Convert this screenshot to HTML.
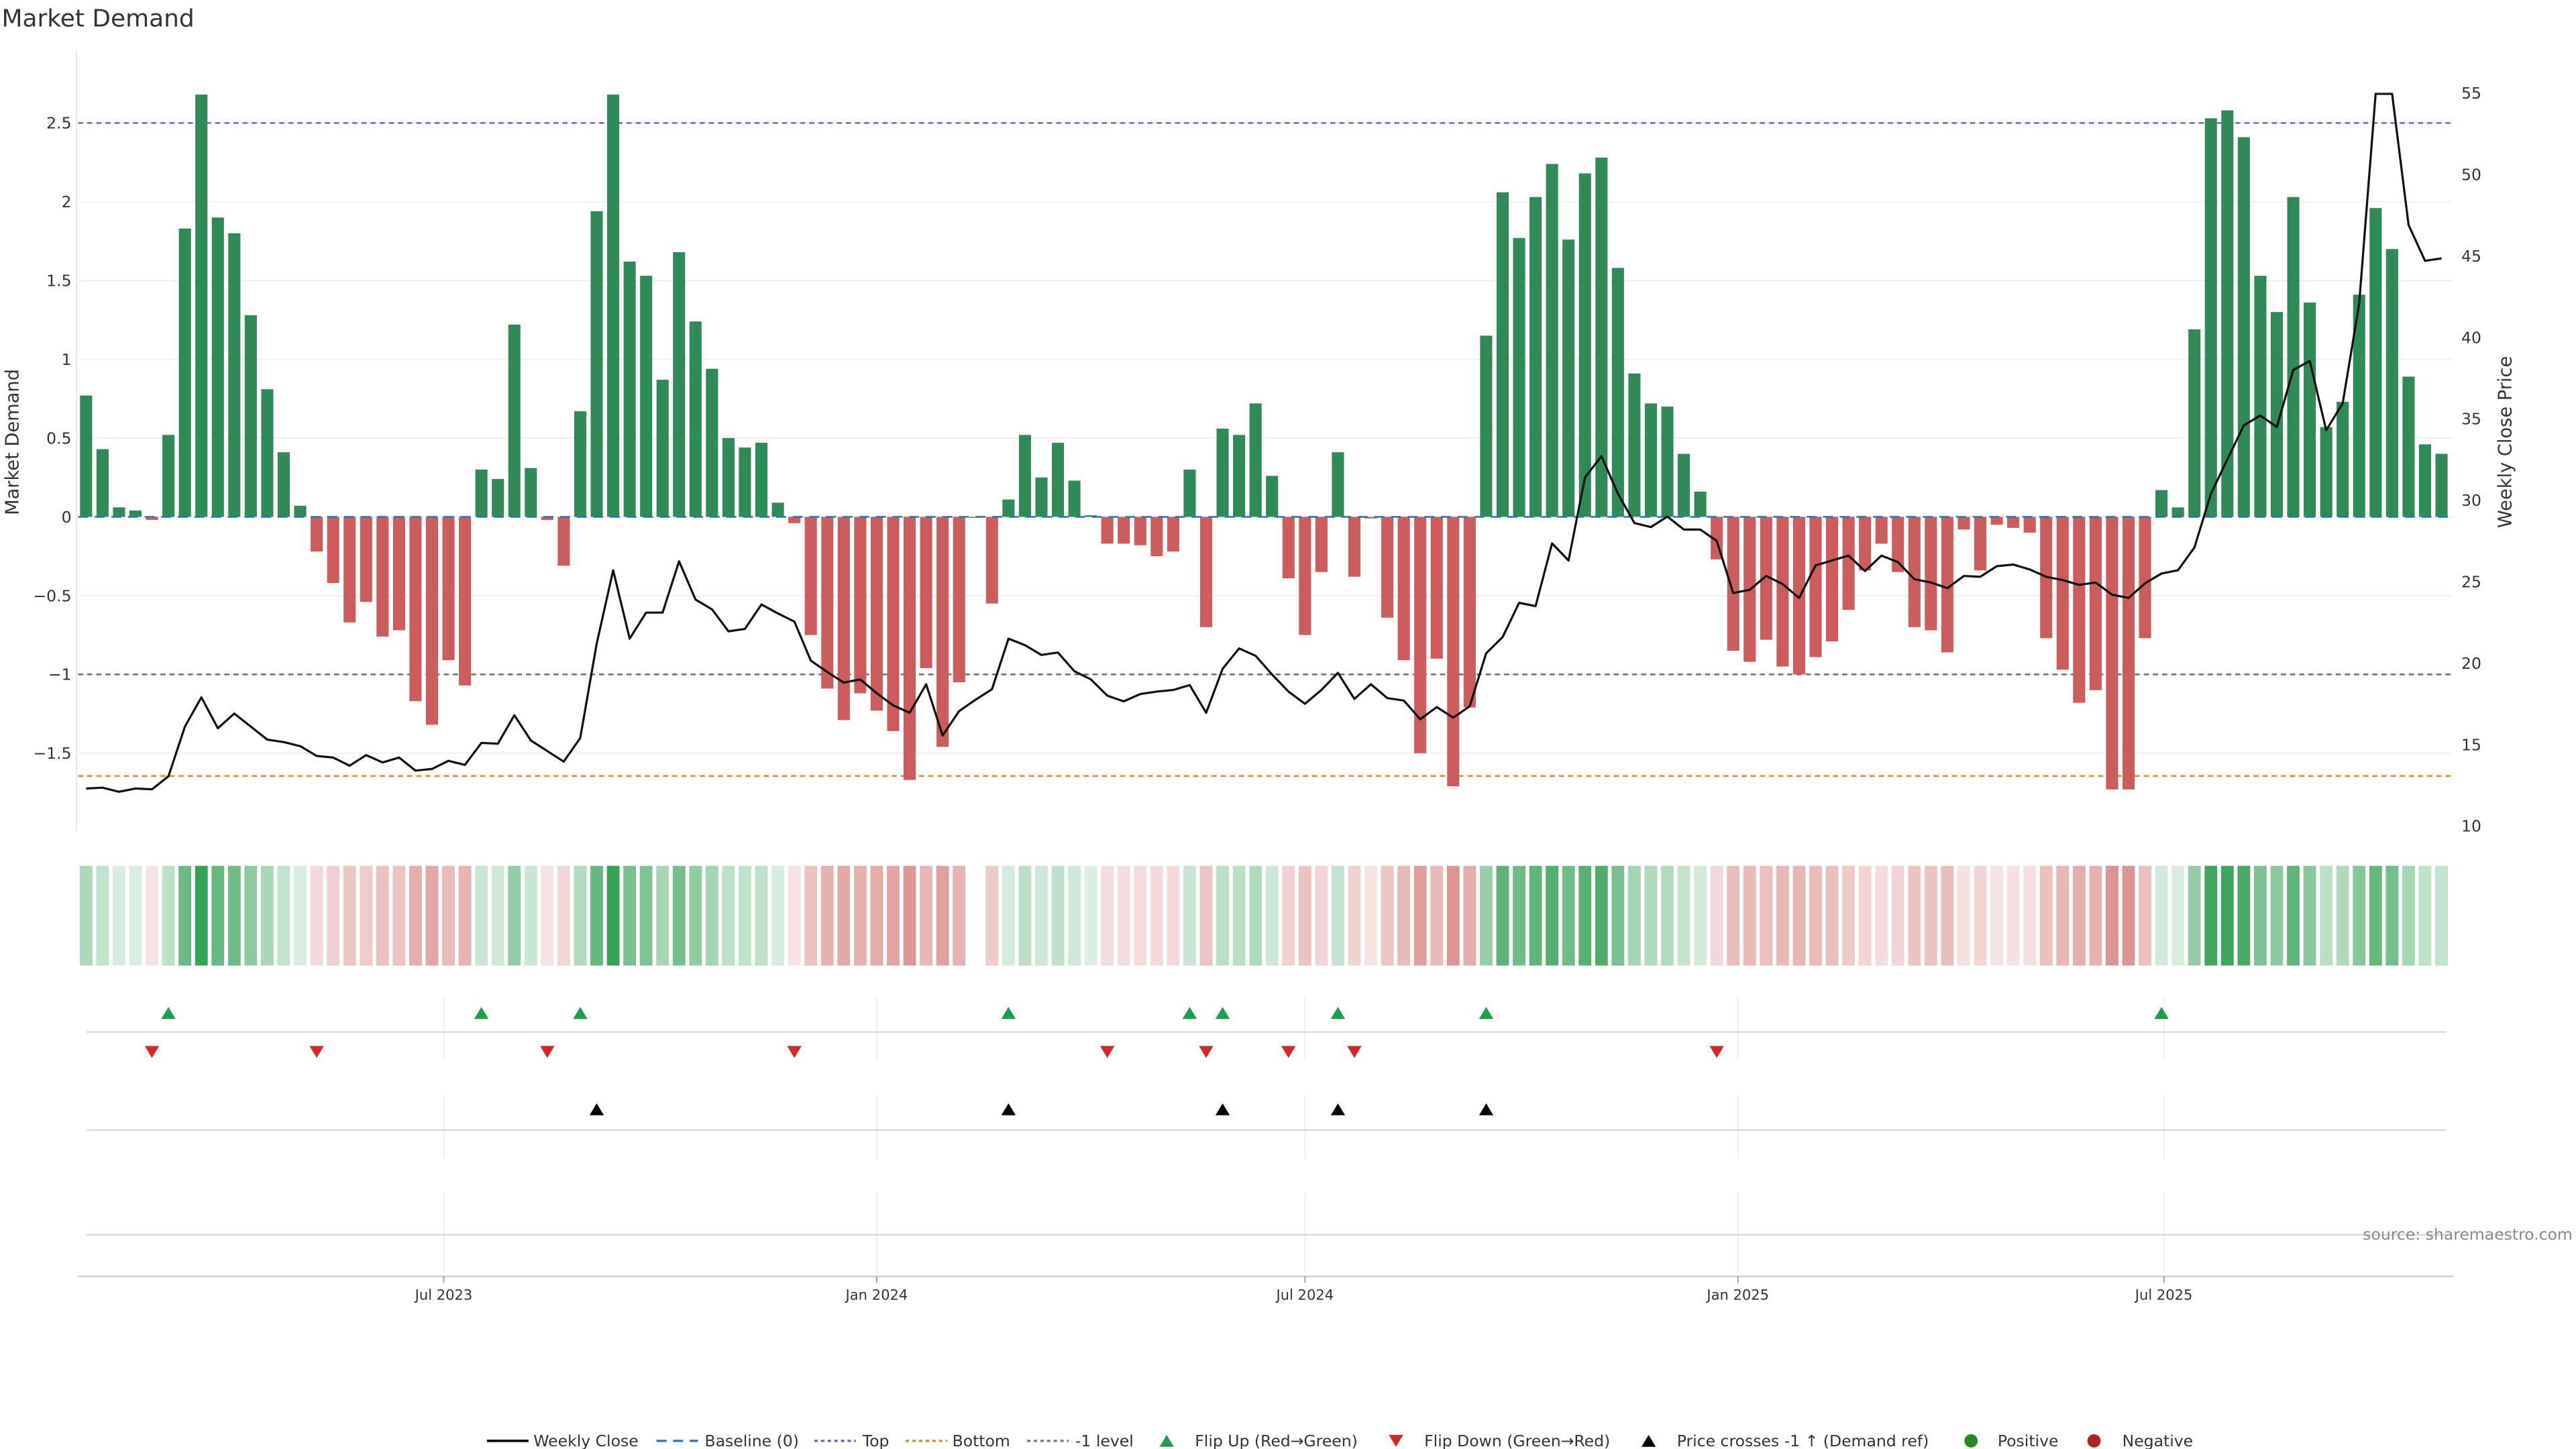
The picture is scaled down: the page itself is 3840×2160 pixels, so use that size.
<!DOCTYPE html>
<html><head><meta charset="utf-8"><title>Market Demand</title>
<style>
html,body{margin:0;padding:0;background:#fff;}
svg{display:block;font-family:"DejaVu Sans","Liberation Sans",sans-serif;}
</style></head>
<body>
<svg id="chart" width="3840" height="2160" viewBox="0 0 1550 871.9" xmlns="http://www.w3.org/2000/svg">
  <text x="1" y="16" font-size="14.5" fill="#333">Market Demand</text>
  <g id="grid"></g>
  <g id="refs"></g>
  <g id="bars"></g>
  <g id="price"></g>
  <g id="heat"></g>
  <g id="markers"></g>
  <g id="axes"></g>
  <text transform="translate(11,266) rotate(-90)" text-anchor="middle" font-size="11" fill="#333">Market Demand</text>
  <text transform="translate(1511,266) rotate(-90)" text-anchor="middle" font-size="11" fill="#333">Weekly Close Price</text>
  <text x="1548" y="746" text-anchor="end" font-size="9.5" fill="#888">source: sharemaestro.com</text>
  <g id="legend" font-size="9.5" fill="#333"></g>
</svg>
<script>
const startDate = "2023-01-30";
const demand = [0.77,0.43,0.06,0.04,-0.02,0.52,1.83,2.68,1.90,1.80,1.28,0.81,0.41,0.07,-0.22,-0.42,-0.67,-0.54,-0.76,-0.72,-1.17,-1.32,-0.91,-1.07,0.30,0.24,1.22,0.31,-0.02,-0.31,0.67,1.94,2.68,1.62,1.53,0.87,1.68,1.24,0.94,0.50,
0.44,0.47,0.09,-0.04,-0.75,-1.09,-1.29,-1.12,-1.23,-1.36,-1.67,-0.96,-1.46,-1.05,-0.005,-0.55,0.11,0.52,0.25,0.47,0.23,0.01,-0.17,-0.17,-0.18,-0.25,-0.22,0.30,-0.70,0.56,0.52,0.72,0.26,-0.39,-0.75,-0.35,0.41,-0.38,-0.01,-0.64,
-0.91,-1.50,-0.90,-1.71,-1.21,1.15,2.06,1.77,2.03,2.24,1.76,2.18,2.28,1.58,0.91,0.72,0.70,0.40,0.16,-0.27,-0.85,-0.92,-0.78,-0.95,-1.00,-0.89,-0.79,-0.59,-0.34,-0.17,-0.35,-0.70,-0.72,-0.86,
-0.08,-0.34,-0.05,-0.07,-0.10,-0.77,-0.97,-1.18,-1.10,-1.73,-1.73,-0.77,0.17,0.06,1.19,2.53,2.58,2.41,1.53,1.30,2.03,1.36,0.57,0.73,1.41,1.96,1.70,0.89,0.46,0.40];
const closePrice = [12.3,12.35,12.1,12.3,12.25,13.05,16.1,17.9,16.0,16.9,16.1,15.3,15.15,14.9,14.3,14.2,13.7,14.35,13.9,14.2,13.4,13.5,14.0,13.75,15.1,15.05,16.8,15.25,14.6,13.95,15.4,21.2,25.7,21.5,23.1,23.1,26.25,23.9,23.3,21.95,
22.1,23.6,23.05,22.55,20.15,19.45,18.8,19.0,18.15,17.4,16.95,18.7,15.55,17.05,17.75,18.4,21.5,21.1,20.5,20.65,19.5,19.0,18.0,17.65,18.1,18.25,18.35,18.65,16.95,19.65,20.9,20.45,19.3,18.25,17.5,18.35,19.4,17.8,18.7,17.85,
17.7,16.55,17.3,16.65,17.35,20.6,21.6,23.7,23.5,27.35,26.3,31.4,32.7,30.4,28.6,28.35,29.0,28.2,28.2,27.5,24.3,24.5,25.35,24.85,24.0,26.0,26.3,26.6,25.65,26.6,26.2,25.15,24.95,24.6,
25.35,25.3,25.95,26.05,25.75,25.3,25.1,24.8,24.95,24.2,24.0,24.9,25.5,25.7,27.1,30.4,32.5,34.6,35.2,34.5,38.0,38.55,34.3,35.95,42.05,54.95,54.95,46.9,44.7,44.85];
const leftTicks = [2.5,2,1.5,1,0.5,0,-0.5,-1,-1.5];
const leftTickLabels = ["2.5","2","1.5","1","0.5","0","−0.5","−1","−1.5"];
const rightTicks = [55,50,45,40,35,30,25,20,15,10];
const dateTicks = ["2023-07-01","2024-01-01","2024-07-01","2025-01-01","2025-07-01"];
const dateTickLabels = ["Jul 2023","Jan 2024","Jul 2024","Jan 2025","Jul 2025"];
const topLevel = 2.5, bottomLevel = -1.645, minusLevel = -1;

const NS = "http://www.w3.org/2000/svg";
function mk(tag, attrs, parent){ const e=document.createElementNS(NS,tag); for(const k in attrs) e.setAttribute(k,attrs[k]); parent.appendChild(e); return e; }
const DAY = 86400000;
const ref = Date.parse("2023-07-01");
function xDate(t){ return 267 + (t - ref)/DAY * 1.4159; }
function xIdx(i){ return xDate(Date.parse(startDate) + i*7*DAY); }
function yL(v){ return 311 - v*94.8; }
function yR(p){ return 56 + (55-p)*9.8; }
function pFromL(v){ return 55 - (yL(v)-56)/9.8; }
const X0=47, X1=1476;

const grid=document.getElementById('grid');
leftTicks.forEach(v=>{ const l=mk('line',{x1:X0,x2:X1,y1:yL(v),y2:yL(v),stroke:'#eef0f4','stroke-width':0.8},grid);
    });
// marker panel gridlines
[[600,638],[659,697],[718,766]].forEach(seg=>{ dateTicks.forEach(d=>{ const l=mk('line',{x1:xDate(Date.parse(d)),x2:xDate(Date.parse(d)),y1:seg[0],y2:seg[1],stroke:'#ececec','stroke-width':0.7},grid);
    }); });
[621,680,743].forEach(y=>{ const l=mk('line',{x1:52,x2:1472,y1:y,y2:y,stroke:'#d6d6d6','stroke-width':0.9},grid);
    });

const refs=document.getElementById('refs');
function hline(v,color,dash,name){ const l=mk('line',{x1:X0,x2:X1,y1:yL(v),y2:yL(v),stroke:color,'stroke-width':1,'stroke-dasharray':dash},refs);
    }
hline(topLevel,'#6a5acd','3 2.5','top-line');
hline(minusLevel,'#666','3 2.5','minus-one-line');
hline(bottomLevel,'#e08a1e','3 2.5','bottom-line');

const bars=document.getElementById('bars');
demand.forEach((v,i)=>{ const x=xIdx(i); const y0=yL(0), y1=yL(v);
  const r=mk('rect',{x:x-3.65,width:7.3,y:Math.min(y0,y1),height:Math.max(0.6,Math.abs(y1-y0)),fill:v>=0?'#2e8b57':'#cd5c5c'},bars);
    });
const bl=mk('line',{x1:X0,x2:X1,y1:yL(0),y2:yL(0),stroke:'#1f77b4','stroke-width':1,'stroke-dasharray':'6 4'},bars);
 

const price=document.getElementById('price');
const pl=mk('polyline',{points:closePrice.map((p,i)=>xIdx(i).toFixed(2)+','+yR(p).toFixed(2)).join(' '),fill:'none',stroke:'#111','stroke-width':1.3,'stroke-linejoin':'round'},price);
 

const heat=document.getElementById('heat');
demand.forEach((v,i)=>{ if(Math.abs(v)<0.008) return; const a=Math.min(1,0.17+0.8*Math.abs(v)/2.7);
  const c=v>=0?`rgba(46,160,80,${a.toFixed(3)})`:`rgba(200,80,75,${(a*0.9).toFixed(3)})`;
  const r=mk('rect',{x:xIdx(i)-3.8,width:7.6,y:521,height:60,fill:c},heat);
    });

const markers=document.getElementById('markers');
function tri(x,y,up,color,name){ const h=3.6,w=4.3; const pts=up?`${x-w},${y+h} ${x+w},${y+h} ${x},${y-h}`:`${x-w},${y-h} ${x+w},${y-h} ${x},${y+h}`;
  const t=mk('polygon',{points:pts,fill:color},markers);   }
const thr=pFromL(minusLevel);
for(let i=1;i<demand.length;i++){
  if(demand[i-1]<0 && demand[i]>0) tri(xIdx(i),609.5,true,'#1a9f4a','flip-up-marker');
  if(demand[i-1]>=0 && demand[i]<0) tri(xIdx(i),633,false,'#d62728','flip-down-marker');
  if(closePrice[i-1]<thr && closePrice[i]>=thr) tri(xIdx(i),667.5,true,'#000','price-cross-marker');
}

const axes=document.getElementById('axes');
const la=mk('line',{x1:46,x2:46,y1:30,y2:500,stroke:'#e6e8ee','stroke-width':0.8},axes);
 
leftTicks.forEach((v,k)=>{ const t=mk('text',{x:43,y:yL(v)+3.4,'text-anchor':'end','font-size':9.5,fill:'#333'},axes); t.textContent=leftTickLabels[k];
    });
rightTicks.forEach(p=>{ const t=mk('text',{x:1481,y:yR(p)+3.4,'font-size':9.5,fill:'#333'},axes); t.textContent=String(p);
    });
const xa=mk('line',{x1:X0,x2:X1,y1:768,y2:768,stroke:'#cfcfcf','stroke-width':1},axes);
 
dateTicks.forEach((d,k)=>{ const x=xDate(Date.parse(d));
  const tk=mk('line',{x1:x,x2:x,y1:768,y2:772,stroke:'#999','stroke-width':0.7},axes);
   
  const t=mk('text',{x:x,y:782,'text-anchor':'middle','font-size':8.5,fill:'#333'},axes); t.textContent=dateTickLabels[k];
    });

const legend=document.getElementById('legend');
const ly=867;
function ltext(x,s){ const t=mk('text',{x:x,y:ly+3.3},legend); t.textContent=s;   }
function lline(x,color,dash,name){ const l=mk('line',{x1:x,x2:x+25,y1:ly,y2:ly,stroke:color,'stroke-width':dash?1.3:1.5,'stroke-dasharray':dash||'none'},legend);
    }
lline(293,'#111',null,'legend-weekly-close'); ltext(321,'Weekly Close');
lline(395,'#1f77b4','6 4','legend-baseline'); ltext(424,'Baseline (0)');
lline(490,'#6a5acd','2 2','legend-top'); ltext(519,'Top');
lline(545,'#e08a1e','2 2','legend-bottom'); ltext(573,'Bottom');
lline(618,'#777','2 2','legend-minus-one'); ltext(647,'-1 level');
function ltri(x,up,color,name){ const h=3.6,w=4.3; const pts=up?`${x-w},${ly+h} ${x+w},${ly+h} ${x},${ly-h}`:`${x-w},${ly-h} ${x+w},${ly-h} ${x},${ly+h}`;
  const t=mk('polygon',{points:pts,fill:color},legend);   }
ltri(702,true,'#1a9f4a','legend-flip-up'); ltext(719,'Flip Up (Red→Green)');
ltri(840,false,'#d62728','legend-flip-down'); ltext(857,'Flip Down (Green→Red)');
ltri(992,true,'#000','legend-price-cross'); ltext(1009,'Price crosses -1 ↑ (Demand ref)');
const c1=mk('circle',{cx:1186,cy:ly,r:4,fill:'#228b22'},legend);   ltext(1202,'Positive');
const c2=mk('circle',{cx:1260,cy:ly,r:4,fill:'#b22222'},legend);   ltext(1277,'Negative');
</script>
</body></html>
